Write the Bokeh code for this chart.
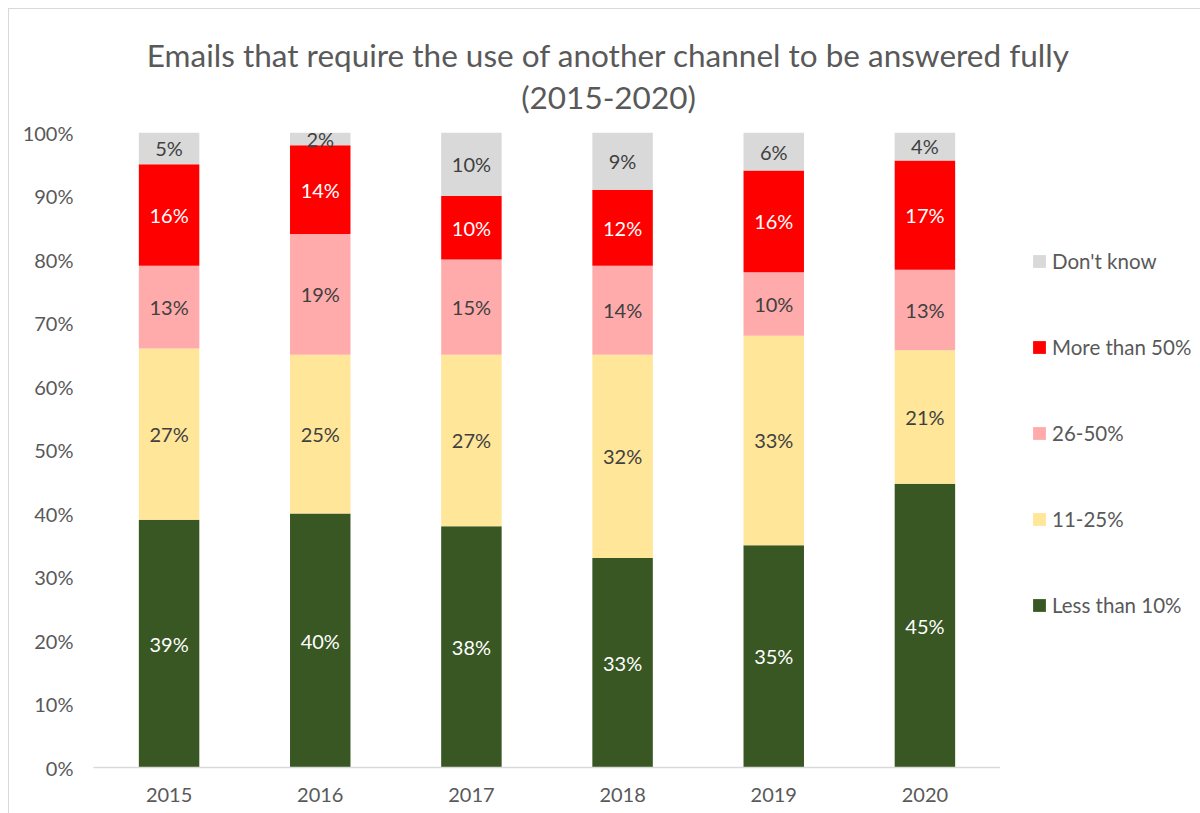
from bokeh.plotting import figure
from bokeh.models import (ColumnDataSource, Legend, LegendItem, LabelSet, Label, FixedTicker,
                          FactorRange, Range1d)
from bokeh.layouts import column, row
from bokeh.core.properties import value
from bokeh.embed import file_html
from bokeh.resources import INLINE

years = ["2015", "2016", "2017", "2018", "2019", "2020"]
less_than_10 = [39, 40, 38, 33, 35, 44.7]
r11_25 = [27, 25, 27, 32, 33, 21.0]
r26_50 = [13, 19, 15, 14, 10, 12.7]
more_than_50 = [16, 14, 10, 12, 16, 17.2]
dont_know = [5, 2, 10, 9, 6, 4.4]
series_names = ["Less than 10%", "11-25%", "26-50%", "More than 50%", "Don't know"]
y_ticks = [0, 10, 20, 30, 40, 50, 60, 70, 80, 90, 100]
y_tick_labels = ["0%", "10%", "20%", "30%", "40%", "50%", "60%", "70%", "80%", "90%", "100%"]
title_lines = ["Emails that require the use of another channel to be answered fully", "(2015-2020)"]

colors = ["#385723", "#FFE699", "#FFABAB", "#FF0000", "#D9D9D9"]
label_colors = ["#FFFFFF", "#404040", "#404040", "#FFFFFF", "#404040"]
FONT = "Lato"
GREY = "#595959"

series = [less_than_10, r11_25, r26_50, more_than_50, dont_know]
keys = ["s0", "s1", "s2", "s3", "s4"]
data = {"years": years}
for k, s in zip(keys, series):
    data[k] = s
source = ColumnDataSource(data)

TOTAL_W = 1191
TITLE_H = 108
PLOT_W, LEG_W = 991, 200
PLOT_H = 696

# ---- title strip ----
tfig = figure(width=TOTAL_W, height=TITLE_H, x_range=Range1d(0, TOTAL_W), y_range=Range1d(0, TITLE_H),
              x_axis_location=None, y_axis_location=None, toolbar_location=None,
              output_backend="svg", min_border=0)
tfig.outline_line_color = None
tfig.grid.visible = False
for txt, yy in zip(title_lines, [63, 21]):
    tfig.add_layout(Label(x=599, y=yy, text=txt, text_align="center", text_baseline="alphabetic",
                          text_font=FONT, text_font_size="31.5px", text_color=GREY))

# ---- main chart ----
p = figure(x_range=FactorRange(*years, range_padding=0), y_range=Range1d(0, 100),
           width=PLOT_W, height=PLOT_H, output_backend="svg", toolbar_location=None,
           min_border_left=84, min_border_right=0, min_border_top=15, min_border_bottom=46)

renderers = p.vbar_stack(keys, x="years", width=0.4, color=colors, source=source, line_color=None)

cum = [0.0] * len(years)
for i, s in enumerate(series):
    mids = [c + v / 2 for c, v in zip(cum, s)]
    cum = [c + v for c, v in zip(cum, s)]
    txt = ["%d%%" % round(v) for v in s]
    src = ColumnDataSource(dict(x=years, y=mids, t=txt))
    p.add_layout(LabelSet(x="x", y="y", text="t", source=src, text_align="center",
                          text_baseline="middle", text_font=value(FONT),
                          text_font_size=value("20px"), text_color=value(label_colors[i])))

p.yaxis.ticker = FixedTicker(ticks=y_ticks)
p.yaxis.major_label_overrides = {t: l for t, l in zip(y_ticks, y_tick_labels)}
p.yaxis.axis_line_color = None
p.yaxis.major_tick_line_color = None
p.yaxis.minor_tick_line_color = None
p.yaxis.major_label_standoff = 14
p.yaxis.major_label_text_font = FONT
p.yaxis.major_label_text_font_size = "20px"
p.yaxis.major_label_text_color = GREY

p.xaxis.axis_line_color = "#D9D9D9"
p.xaxis.axis_line_width = 1.5
p.xaxis.major_tick_line_color = None
p.xaxis.minor_tick_line_color = None
p.xaxis.major_label_standoff = 14
p.xaxis.major_label_text_font = FONT
p.xaxis.major_label_text_font_size = "20px"
p.xaxis.major_label_text_color = GREY

p.xgrid.grid_line_color = None
p.ygrid.grid_line_color = None
p.outline_line_color = None

# ---- legend strip (legend keys use zero-height proxy bars) ----
lfig = figure(width=LEG_W, height=PLOT_H, x_range=Range1d(0, 1), y_range=Range1d(0, 1),
              x_axis_location=None, y_axis_location=None, toolbar_location=None,
              output_backend="svg", min_border=0)
lfig.outline_line_color = None
lfig.grid.visible = False
proxy = ColumnDataSource(data=dict(x=[0.5], top=[0.0]))
keys_r = [lfig.vbar(x="x", top="top", width=0.1, fill_color=c, line_color=None, source=proxy)
          for c in colors]
items = [LegendItem(label=series_names[i], renderers=[keys_r[i]]) for i in reversed(range(5))]
legend = Legend(items=items, location=(31, 149), orientation="vertical",
                label_text_font=FONT, label_text_font_size="20.5px", label_text_color=GREY,
                glyph_width=16, glyph_height=16, label_height=26, label_standoff=5,
                spacing=60, padding=0, margin=0, border_line_color=None, background_fill_alpha=0)
lfig.add_layout(legend)

layout = column(tfig, row(p, lfig), margin=(8, 0, 0, 8))
layout.styles = {"border-top": "1px solid #D9D9D9", "border-left": "1px solid #D9D9D9"}

open("out.html", "w").write(file_html(layout, INLINE))
